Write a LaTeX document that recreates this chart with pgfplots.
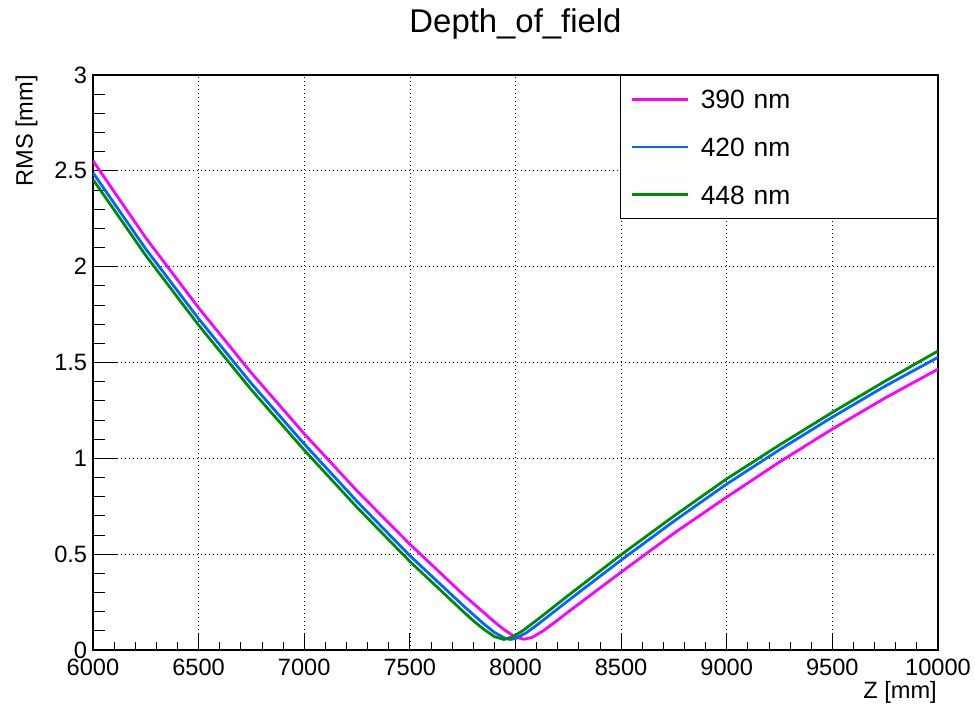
\documentclass[border=0pt]{standalone}
\usepackage{pgfplots}
\pgfplotsset{compat=1.18}
\usepackage{pgfplotstable}
\usepackage{fontspec}
\setmainfont{Liberation Sans}
\definecolor{c390}{RGB}{255,0,255}
\definecolor{c420}{RGB}{0,102,255}
\definecolor{c448}{RGB}{0,140,0}

\pgfplotstableread{
z rms
6000 2.552
6250 2.150
6500 1.785
6750 1.445
7000 1.128
7250 0.830
7500 0.552
7750 0.292
7850 0.195
7900 0.147
7950 0.103
8000 0.068
8040 0.056
8080 0.066
8130 0.099
8200 0.156
8250 0.199
8500 0.406
8750 0.609
9000 0.798
9250 0.981
9500 1.153
9750 1.315
10000 1.465
}\tblA

\pgfplotstableread{
z rms
6000 2.490
6250 2.092
6500 1.728
6750 1.390
7000 1.075
7250 0.775
7500 0.492
7750 0.234
7850 0.136
7900 0.092
7950 0.061
7975 0.055
8000 0.060
8050 0.089
8100 0.129
8250 0.258
8500 0.469
8750 0.672
9000 0.866
9250 1.045
9500 1.215
9750 1.377
10000 1.527
}\tblB

\pgfplotstableread{
z rms
6000 2.455
6250 2.058
6500 1.695
6750 1.357
7000 1.043
7250 0.744
7500 0.462
7750 0.203
7800 0.153
7850 0.108
7900 0.070
7945 0.055
7990 0.070
8040 0.105
8100 0.155
8250 0.285
8500 0.497
8750 0.699
9000 0.893
9250 1.070
9500 1.240
9750 1.403
10000 1.560
}\tblC

\begin{document}
\begin{tikzpicture}
\begin{axis}[
  at={(0,0)}, anchor=south west,
  scale only axis, width=845bp, height=575bp,
  xmin=6000, xmax=10000, ymin=0, ymax=3,
  xtick={6000,6500,...,10000},
  ytick={0,0.5,...,3},
  minor x tick num=4, minor y tick num=4,
  tick align=inside, tick pos=left,
  scaled x ticks=false,
  /pgf/number format/1000 sep={},
  /pgf/number format/assume math mode=true,
  xtick style={black, line width=0.9bp, /pgfplots/major tick length=17bp, /pgfplots/minor tick length=8bp},
  ytick style={black, line width=0.9bp, /pgfplots/major tick length=25bp, /pgfplots/minor tick length=12bp},
  axis line style={black, line width=1.1bp},
  grid=major,
  major grid style={black, line width=0.7bp, dash pattern=on 1.3bp off 2.7bp},
  ticklabel style={font=\fontsize{23.7}{26}\selectfont},
  xticklabel style={anchor=base, inner sep=0pt, yshift=-25bp},
  yticklabel style={anchor=east, inner sep=0pt, xshift=-5.7bp},
  title={Depth\_of\_field},
  title style={at={(0.5,1.0638)}, anchor=base, inner sep=0pt, font=\fontsize{33}{37}\selectfont},
  xlabel={Z [mm]},
  xlabel style={at={(0.9988,-0.0835)}, anchor=base east, inner sep=0pt, font=\fontsize{23.7}{26}\selectfont},
  ylabel={RMS [mm]},
  ylabel style={at={(-0.0714,1)}, anchor=base east, inner sep=0pt, font=\fontsize{23.7}{26}\selectfont},
  legend cell align=left,
  legend style={at={(1,1)}, anchor=north east, draw=black, line width=0.9bp, fill=white,
    inner xsep=10.5bp, inner ysep=0pt, column sep=11.7bp, row sep=0pt,
    font=\fontsize{26.5}{28}\selectfont,
    nodes={inner sep=0pt, text height=33.35bp, text depth=14.35bp, text width=226.3bp, align=left}},
  legend image code/.code={\draw[#1, line width=2.8bp] (0bp,0bp) -- (55.7bp,0bp);},
]
\addplot[c390, line width=2.8bp, line join=round] table[x=z,y=rms] {\tblA};
\addlegendentry{390 nm}
\addplot[c420, line width=2.8bp, line join=round] table[x=z,y=rms] {\tblB};
\addlegendentry{420 nm}
\addplot[c448, line width=2.8bp, line join=round] table[x=z,y=rms] {\tblC};
\addlegendentry{448 nm}
\end{axis}
\pgfresetboundingbox
\path[use as bounding box] (-93bp,-55bp) rectangle (882bp,650bp);
\end{tikzpicture}
\end{document}
